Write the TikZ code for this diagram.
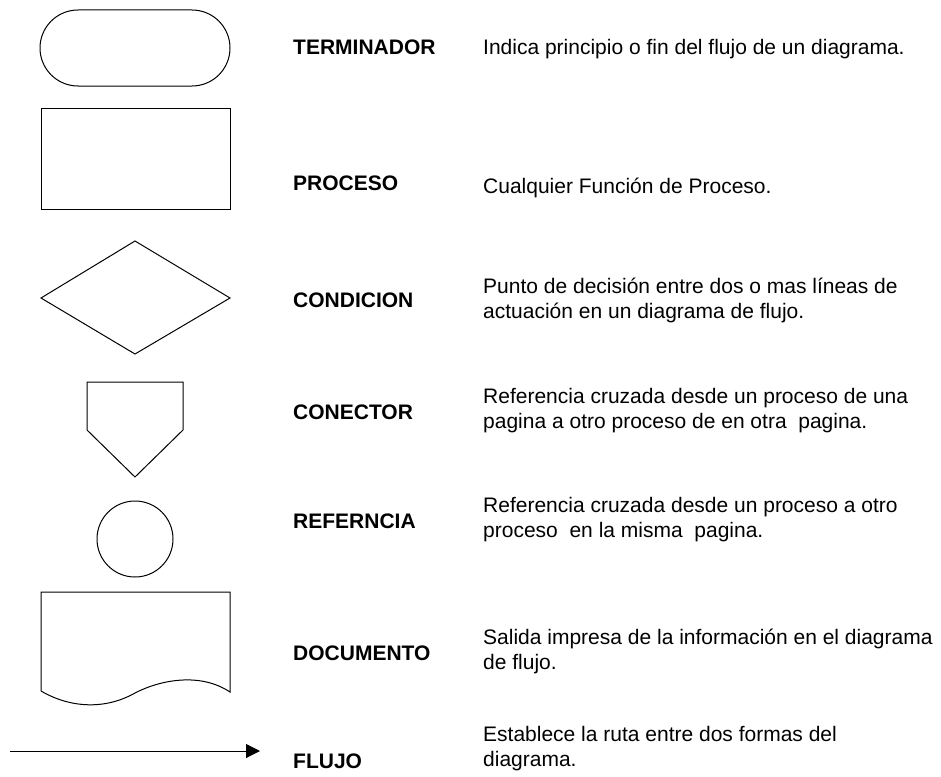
\documentclass[tikz,border=0pt]{standalone}
\usepackage{fontspec}
\setmainfont{Liberation Sans}
\usetikzlibrary{arrows.meta}
\begin{document}
\begin{tikzpicture}[x=1pt,y=-1pt,
  shape line/.style={draw=black,line width=1pt},
  lbl/.style={anchor=base west,inner sep=0pt,font=\fontsize{21}{24.5}\selectfont\bfseries},
  desc/.style={anchor=base west,inner sep=0pt,align=left,font=\fontsize{21}{24.5}\selectfont}]
\useasboundingbox (0,0) rectangle (941,776);
% shapes
\draw[shape line,rounded corners=38pt] (40,10) rectangle (230,86);
\draw[shape line] (41,108) rectangle (230,209);
\draw[shape line] (135,241) -- (230,298) -- (135,354) -- (41,298) -- cycle;
\draw[shape line] (87,382) -- (183,382) -- (183,430) -- (135,477) -- (87,430) -- cycle;
\draw[shape line] (135,539) circle (38);
\draw[shape line] (41,691) -- (41,592) -- (230,592) -- (230,692)
  .. controls (200,672) and (160,680) .. (135,693)
  .. controls (105,710) and (70,708) .. (41,691);
\coordinate (fa) at (10,751);
\coordinate (fb) at (260,751);
\draw[line width=1pt,-{Triangle[length=14pt,width=14pt]}] (fa) -- (fb);
% labels
\node[lbl] (l1) at (293,55) {TERMINADOR};
\node[lbl] (l2) at (293,190) {PROCESO};
\node[lbl] (l3) at (293,307) {CONDICION};
\node[lbl] (l4) at (293,419) {CONECTOR};
\node[lbl] (l5) at (293,528) {REFERNCIA};
\node[lbl] (l6) at (293,660) {DOCUMENTO};
\node[lbl] (l7) at (293,768) {FLUJO};
% descriptions (base anchor = last line)
\node[desc] (d1) at (483,55) {Indica principio o fin del flujo de un diagrama.};
\node[desc] (d2) at (483,193) {Cualquier Función de Proceso.};
\node[desc] (d3) at (483,318) {Punto de decisión entre dos o mas líneas de\\actuación en un diagrama de flujo.};
\node[desc] (d4) at (483,428) {Referencia cruzada desde un proceso de una\\pagina a otro proceso de en otra\ \ pagina.};
\node[desc] (d5) at (483,537) {Referencia cruzada desde un proceso a otro\\proceso\ \ en la misma\ \ pagina.};
\node[desc] (d6) at (483,669) {Salida impresa de la información en el diagrama\\de flujo.};
\node[desc] (d7) at (483,766) {Establece la ruta entre dos formas del\\diagrama.};
\end{tikzpicture}
\end{document}
